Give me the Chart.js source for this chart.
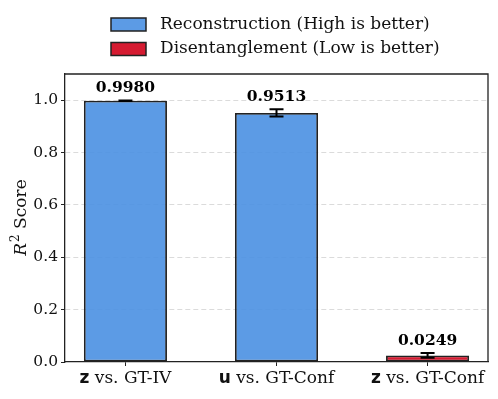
<!DOCTYPE html>
<html>
<head>
<meta charset="utf-8">
<script src="https://cdn.jsdelivr.net/npm/chart.js@4.4.1/dist/chart.umd.min.js"></script>
<style>
    html, body { margin: 0; padding: 0; background: #fff; }
    #wrap { width: 498px; height: 399px; }
</style>
</head>
<body>
<div id="wrap"><canvas id="r2Chart" width="498" height="399"></canvas></div>
<script>
// data
const positions = [0, 1, 2];
const labelBold = ['z', 'u', 'z'];
const labelRest = [' vs. GT-IV', ' vs. GT-Conf', ' vs. GT-Conf'];
const scores = [0.9980, 0.9513, 0.0249];
const errors = [0.001, 0.014, 0.009];
const groups = [0, 0, 1];
const groupNames = ['Reconstruction (High is better)', 'Disentanglement (Low is better)'];
const yTicks = [0, 0.2, 0.4, 0.6, 0.8, 1.0];

const groupFill = ['rgba(74, 144, 226, 0.9)', 'rgba(208, 2, 27, 0.9)'];
const edgeColor = '#222';
const SERIF = '"DejaVu Serif", serif';
const SANS = '"DejaVu Sans", sans-serif';

const extrasPlugin = {
    id: 'extras',
    afterDatasetsDraw(chart) {
        const ctx = chart.ctx;
        const xs = chart.scales.x;
        const ys = chart.scales.y;
        const area = chart.chartArea;

        ctx.save();
        // error bars
        ctx.strokeStyle = '#000';
        ctx.lineWidth = 2;
        positions.forEach((p, i) => {
            const cx = xs.getPixelForValue(p);
            const yTop = ys.getPixelForValue(scores[i] + errors[i]);
            const yBot = ys.getPixelForValue(scores[i] - errors[i]);
            ctx.beginPath();
            ctx.moveTo(cx, yTop); ctx.lineTo(cx, yBot);
            ctx.moveTo(cx - 7, yTop); ctx.lineTo(cx + 7, yTop);
            ctx.moveTo(cx - 7, yBot); ctx.lineTo(cx + 7, yBot);
            ctx.stroke();
        });

        // value labels
        ctx.fillStyle = '#000';
        ctx.font = 'bold 15.5px ' + SERIF;
        ctx.textAlign = 'center';
        ctx.textBaseline = 'alphabetic';
        positions.forEach((p, i) => {
            const cx = xs.getPixelForValue(p);
            const yTop = ys.getPixelForValue(scores[i] + errors[i]);
            ctx.fillText(scores[i].toFixed(4), cx, yTop - 8);
        });

        // top and right spines
        ctx.strokeStyle = edgeColor;
        ctx.lineWidth = 1.3;
        ctx.beginPath();
        ctx.moveTo(area.left, area.top); ctx.lineTo(area.right, area.top);
        ctx.lineTo(area.right, area.bottom);
        ctx.stroke();

        // x tick labels with bold symbol
        ctx.textAlign = 'left';
        ctx.textBaseline = 'middle';
        positions.forEach((p, i) => {
            const cx = xs.getPixelForValue(p);
            ctx.font = 'bold 17px ' + SANS;
            const wb = ctx.measureText(labelBold[i]).width;
            ctx.font = '17px ' + SERIF;
            const wr = ctx.measureText(labelRest[i]).width;
            let x0 = cx - (wb + wr) / 2;
            const y0 = area.bottom + 17;
            ctx.fillStyle = '#111';
            ctx.font = 'bold 17px ' + SANS;
            ctx.fillText(labelBold[i], x0, y0);
            ctx.font = '17px ' + SERIF;
            ctx.fillText(labelRest[i], x0 + wb, y0);
        });

        // y axis title: italic R, superscript 2
        ctx.translate(22, (area.top + area.bottom) / 2);
        ctx.rotate(-Math.PI / 2);
        ctx.textBaseline = 'middle';
        ctx.font = 'italic 17px ' + SERIF;
        const wR = ctx.measureText('R').width;
        ctx.font = '12px ' + SERIF;
        const w2 = ctx.measureText('2').width;
        ctx.font = '17px ' + SERIF;
        const wS = ctx.measureText(' Score').width;
        let tx = -(wR + w2 + wS) / 2;
        ctx.fillStyle = '#111';
        ctx.font = 'italic 17px ' + SERIF;
        ctx.fillText('R', tx, 0);
        ctx.font = '12px ' + SERIF;
        ctx.fillText('2', tx + wR + 1, -6);
        ctx.font = '17px ' + SERIF;
        ctx.fillText(' Score', tx + wR + w2 + 1, 0);
        ctx.restore();

        // legend
        ctx.save();
        ctx.font = '17px ' + SERIF;
        ctx.textAlign = 'left';
        ctx.textBaseline = 'middle';
        groupNames.forEach((name, g) => {
            const by = 18 + g * 24.5;
            ctx.fillStyle = groupFill[g];
            ctx.fillRect(111, by, 35, 13);
            ctx.strokeStyle = edgeColor;
            ctx.lineWidth = 1.5;
            ctx.strokeRect(111, by, 35, 13);
            ctx.fillStyle = '#111';
            ctx.fillText(name, 160, by + 6.5);
        });
        ctx.restore();
    }
};

const chart = new Chart(document.getElementById('r2Chart'), {
    type: 'bar',
    data: {
        datasets: [{
            data: positions.map((p, i) => ({ x: p, y: scores[i] })),
            backgroundColor: groups.map(g => groupFill[g]),
            borderColor: edgeColor,
            borderWidth: 1.8,
            borderSkipped: false,
            barPercentage: 0.55,
            categoryPercentage: 1.0
        }]
    },
    options: {
        responsive: false,
        animation: false,
        layout: { padding: { top: 74, right: 10, left: 0, bottom: 0 } },
        plugins: {
            legend: { display: false },
            tooltip: { enabled: false }
        },
        scales: {
            x: {
                type: 'linear',
                offset: false,
                min: -0.4,
                max: 2.4,
                afterBuildTicks: s => { s.ticks = positions.map(v => ({ value: v })); },
                afterFit: s => { s.height = 37; },
                ticks: { callback: () => '', padding: 0 },
                grid: { offset: false, drawOnChartArea: false, drawTicks: true, tickLength: 4, tickColor: edgeColor },
                border: { color: edgeColor, width: 1.3 }
            },
            y: {
                min: 0,
                max: 1.1,
                afterBuildTicks: s => { s.ticks = yTicks.map(v => ({ value: v })); },
                afterFit: s => { s.width = 65; },
                ticks: {
                    callback: v => v.toFixed(1),
                    color: '#111',
                    font: { family: SERIF, size: 15.5 },
                    padding: 3
                },
                grid: {
                    color: ctx => ctx.tick && ctx.tick.value === 0 ? 'rgba(0,0,0,0)' : 'rgba(0,0,0,0.14)',
                    lineWidth: 1,
                    drawTicks: true,
                    tickLength: 4,
                    tickColor: edgeColor,
                    tickBorderDash: []
                },
                border: { color: edgeColor, width: 1.3, dash: [5, 3] }
            }
        }
    },
    plugins: [extrasPlugin]
});
</script>
</body>
</html>
